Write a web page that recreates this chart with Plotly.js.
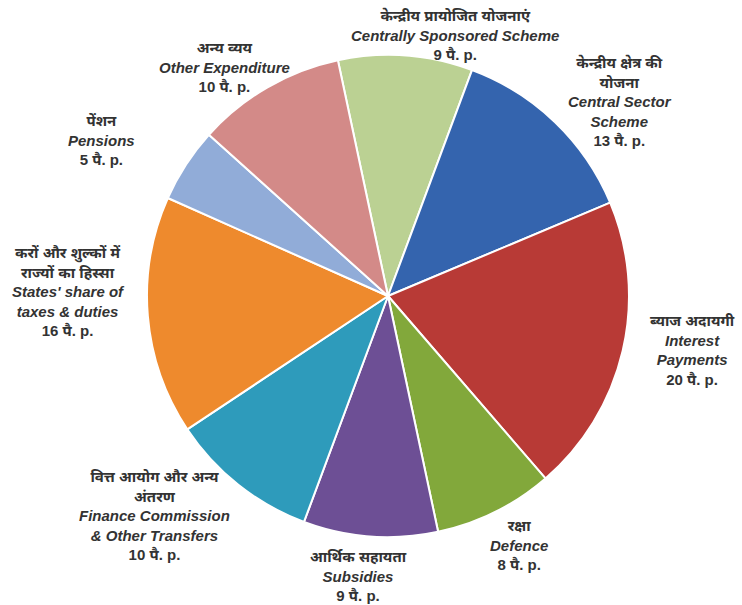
<!DOCTYPE html>
<html>
<head>
<meta charset="utf-8">
<script src="https://cdn.plot.ly/plotly-3.0.1.min.js"></script>
<style>html,body{margin:0;padding:0;background:#fff;}#chart{width:742px;height:605px;}</style>
</head>
<body>
<div id="chart"></div>
<script>
const labelsEn = ["Centrally Sponsored Scheme", "Central Sector<br>Scheme", "Interest<br>Payments", "Defence", "Subsidies", "Finance Commission<br>& Other Transfers", "States' share of<br>taxes & duties", "Pensions", "Other Expenditure"];
const labelsHi = ["केन्द्रीय प्रायोजित योजनाएं", "केन्द्रीय क्षेत्र की<br>योजना", "ब्याज अदायगी", "रक्षा", "आर्थिक सहायता", "वित्त आयोग और अन्य<br>अंतरण", "करों और शुल्कों में<br>राज्यों का हिस्सा", "पेंशन", "अन्य व्यय"];
const values = [9, 13, 20, 8, 9, 10, 16, 5, 10];
const colors = ["#BBD193", "#3464AE", "#B83A36", "#82A83B", "#6D4F95", "#2E9BBB", "#EE8A2D", "#91ACD8", "#D38A88"];

// label anchor positions (pixels in 742x605 canvas)
const labelPos = [[455, 35], [620, 101], [692, 350], [519, 545], [358, 576], [154, 515], [68, 291], [101, 140], [224, 67]];

const W = 742, H = 605;
const annotations = values.map((v, i) => ({
  xref: 'paper', yref: 'paper',
  x: labelPos[i][0] / W, y: 1 - labelPos[i][1] / H,
  xanchor: 'center', yanchor: 'middle', align: 'center',
  showarrow: false,
  text: '<b><i>' + labelsHi[i] + '</i></b><br><b><i>' + labelsEn[i] + '</i></b><br><b>' + v + ' पै. p.</b>',
  font: {family: 'Liberation Sans, Arial, Noto Sans, sans-serif', size: 15, color: '#333333'}
}));

const trace = {
  type: 'pie',
  values: values,
  labels: labelsEn,
  sort: false,
  direction: 'clockwise',
  rotation: -12,
  marker: {colors: colors, line: {color: '#ffffff', width: 2}},
  textinfo: 'none',
  hoverinfo: 'none',
  showlegend: false,
  domain: {x: [(388 - 241) / W, (388 + 241) / W], y: [(H - 296 - 241) / H, (H - 296 + 241) / H]}
};

Plotly.newPlot('chart', [trace], {
  width: W, height: H,
  margin: {l: 0, r: 0, t: 0, b: 0},
  paper_bgcolor: '#ffffff',
  showlegend: false,
  annotations: annotations
}, {staticPlot: true});
</script>
</body>
</html>
